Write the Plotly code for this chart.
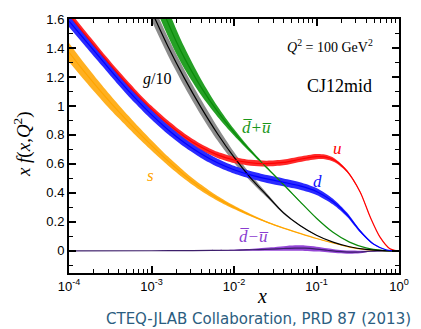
import numpy as np
import plotly.graph_objects as go

# ---- data (log10 x grids, central values, half-widths of bands) ----
u_logx = [-4, -3.8, -3.6, -3.4, -3.2, -3.0, -2.8, -2.6, -2.4, -2.2, -2.0, -1.8, -1.6, -1.4, -1.2, -1.0, -0.9, -0.78, -0.63, -0.47, -0.35, -0.23, -0.11, 0]
u_val = [1.63, 1.488, 1.35, 1.217, 1.092, 0.978, 0.876, 0.788, 0.716, 0.662, 0.627, 0.608, 0.602, 0.61, 0.632, 0.65, 0.648, 0.625, 0.55, 0.405, 0.235, 0.095, 0.015, 0]
u_err = [0.028, 0.027, 0.026, 0.025, 0.024, 0.023, 0.023, 0.022, 0.022, 0.021, 0.021, 0.02, 0.02, 0.02, 0.019, 0.018, 0.016, 0.013, 0.008, 0.004, 0.002, 0.001, 0.0005, 0]

d_logx = [-4, -3.8, -3.6, -3.4, -3.2, -3.0, -2.8, -2.6, -2.4, -2.2, -2.0, -1.8, -1.6, -1.4, -1.2, -1.0, -0.8, -0.63, -0.47, -0.31, -0.15, 0]
d_val = [1.585, 1.45, 1.316, 1.182, 1.056, 0.94, 0.836, 0.746, 0.67, 0.608, 0.56, 0.524, 0.496, 0.473, 0.448, 0.41, 0.34, 0.25, 0.135, 0.047, 0.006, 0]
d_err = [0.04, 0.039, 0.038, 0.037, 0.036, 0.034, 0.032, 0.03, 0.029, 0.028, 0.027, 0.027, 0.027, 0.027, 0.026, 0.024, 0.02, 0.014, 0.008, 0.003, 0.001, 0]

s_logx = [-4, -3.8, -3.6, -3.4, -3.2, -3.0, -2.8, -2.6, -2.4, -2.2, -2.0, -1.8, -1.6, -1.4, -1.2, -1.0, -0.8, -0.6, -0.4, -0.2, 0]
s_val = [1.37, 1.226, 1.09, 0.962, 0.842, 0.728, 0.62, 0.522, 0.436, 0.362, 0.3, 0.246, 0.198, 0.157, 0.12, 0.085, 0.054, 0.026, 0.008, 0.001, 0]
s_err = [0.065, 0.058, 0.052, 0.046, 0.041, 0.036, 0.031, 0.026, 0.021, 0.016, 0.012, 0.008, 0.005, 0.003, 0.002, 0.001, 0.0005, 0, 0, 0, 0]

g_logx = [-3.0, -2.8, -2.6, -2.4, -2.2, -2.0, -1.8, -1.6, -1.4, -1.2, -1.0, -0.8, -0.6, -0.4, -0.2, 0]
g_val = [1.655, 1.41, 1.19, 0.99, 0.808, 0.646, 0.504, 0.382, 0.262, 0.175, 0.108, 0.06, 0.028, 0.01, 0.002, 0]
g_err = [0.066, 0.062, 0.058, 0.054, 0.047, 0.036, 0.024, 0.014, 0.007, 0.003, 0.001, 0, 0, 0, 0, 0]

sea_logx = [-2.9, -2.82, -2.7, -2.6, -2.4, -2.2, -2.0, -1.8, -1.6, -1.4, -1.2, -1.0, -0.8, -0.6, -0.4, -0.2, 0]
sea_val = [1.71, 1.60, 1.445, 1.33, 1.13, 0.962, 0.818, 0.69, 0.572, 0.458, 0.34, 0.225, 0.128, 0.06, 0.02, 0.003, 0]
sea_err = [0.1, 0.095, 0.085, 0.075, 0.055, 0.036, 0.022, 0.012, 0.006, 0.003, 0.002, 0.001, 0, 0, 0, 0, 0]

dmu_logx = [-4, -3, -2.5, -2.0, -1.85, -1.7, -1.55, -1.4, -1.26, -1.14, -1.0, -0.87, -0.74, -0.6, -0.47, -0.35, -0.2, 0]
dmu_val = [0, 0.0005, 0.002, 0.004, 0.006, 0.009, 0.012, 0.016, 0.019, 0.018, 0.012, 0.004, -0.004, -0.009, -0.008, -0.003, -0.001, 0]
dmu_err = [0, 0.0005, 0.002, 0.004, 0.006, 0.009, 0.012, 0.016, 0.019, 0.019, 0.017, 0.014, 0.012, 0.011, 0.009, 0.004, 0.001, 0]

x_tickvals = [1e-4, 1e-3, 1e-2, 1e-1, 1]
x_ticktext = ["10<sup>-4</sup>", "10<sup>-3</sup>", "10<sup>-2</sup>", "10<sup>-1</sup>", "10<sup>0</sup>"]

series = {
    "s": (s_logx, s_val, s_err, "#ffb020", "#ffa500"),
    "dmu": (dmu_logx, dmu_val, dmu_err, "#9446d6", "#3c1e6a"),
    "g": (g_logx, g_val, g_err, "#8c8c8c", "#000000"),
    "sea": (sea_logx, sea_val, sea_err, "#25a025", "#0a8a0a"),
    "u": (u_logx, u_val, u_err, "#ff2a2a", "#ff0000"),
    "d": (d_logx, d_val, d_err, "#2a2aff", "#0000ff"),
}

fig = go.Figure()
for name, (lx, v, e, bandc, _) in series.items():
    x = 10 ** np.array(lx)
    v = np.array(v)
    e = np.array(e)
    fig.add_trace(go.Scatter(x=x, y=v - e, mode="lines", line=dict(width=0, shape="spline", smoothing=0.8),
                             hoverinfo="skip", showlegend=False))
    fig.add_trace(go.Scatter(x=x, y=v + e, mode="lines", line=dict(width=0, shape="spline", smoothing=0.8),
                             fill="tonexty", fillcolor=bandc, opacity=0.9, hoverinfo="skip", showlegend=False))

for name in ["s", "dmu", "sea", "g", "d", "u"]:
    lx, v, e, _, linec = series[name]
    fig.add_trace(go.Scatter(x=10 ** np.array(lx), y=v, mode="lines",
                             line=dict(color=linec, width=1.2, shape="spline", smoothing=0.8),
                             showlegend=False, name=name))

serif = "Liberation Serif"
ann = [
    dict(x=0.792, y=0.892, text="<i>Q</i><sup>2</sup> = 100 GeV<sup>2</sup>", font=dict(size=14, color="black", family=serif)),
    dict(x=0.819, y=0.738, text="CJ12mid", font=dict(size=18, color="black", family=serif)),
    dict(x=0.267, y=0.762, text="<i>g</i>/10", font=dict(size=16, color="black", family=serif)),
    dict(x=0.570, y=0.573, text="<i>d\u0305+u\u0305</i>", font=dict(size=17, color="#1a961a", family=serif)),
    dict(x=0.813, y=0.490, text="<i>u</i>", font=dict(size=17, color="#ff0000", family=serif)),
    dict(x=0.754, y=0.362, text="<i>d</i>", font=dict(size=17, color="#1010ff", family=serif)),
    dict(x=0.246, y=0.385, text="<i>s</i>", font=dict(size=17, color="#ffa500", family=serif)),
    dict(x=0.561, y=0.142, text="<i>d\u0305\u2212u\u0305</i>", font=dict(size=17, color="#8a3cd0", family=serif)),
    dict(x=0.585, y=-0.092, text="<i>x</i>", font=dict(size=20, color="black", family=serif)),
    dict(x=-0.139, y=0.508, text="<i>x f</i>(<i>x</i>,<i>Q</i><sup>2</sup>)", textangle=-90,
         font=dict(size=19, color="black", family=serif)),
    dict(x=1.0415, y=-0.181, xanchor="right", text="CTEQ-JLAB Collaboration, PRD 87 (2013)",
         font=dict(size=15, color="#2b5d80", family="DejaVu Sans")),
]
for a in ann:
    a.setdefault("xanchor", "center")
    fig.add_annotation(xref="paper", yref="paper", showarrow=False, yanchor="middle", **a)

fig.update_layout(
    width=421, height=329,
    margin=dict(l=69, r=15, t=13, b=56),
    paper_bgcolor="white", plot_bgcolor="white",
    font=dict(family="Liberation Sans", size=13, color="black"),
    xaxis=dict(type="log", range=[-4, 0], tickvals=x_tickvals, ticktext=x_ticktext,
               ticks="inside", ticklen=7, tickwidth=1.5, tickcolor="black",
               showline=True, linewidth=2, linecolor="black", mirror="allticks",
               showgrid=False, zeroline=False,
               minor=dict(ticks="inside", ticklen=4, tickwidth=1.2, tickcolor="black", dtick="D1", showgrid=False),
               tickfont=dict(size=13)),
    yaxis=dict(range=[-0.153, 1.6], dtick=0.2, tick0=0,
               ticks="inside", ticklen=7, tickwidth=1.5, tickcolor="black",
               showline=True, linewidth=2, linecolor="black", mirror="allticks",
               showgrid=False, zeroline=False,
               minor=dict(ticks="inside", ticklen=4, tickwidth=1.2, tickcolor="black", dtick=0.1, showgrid=False),
               tickfont=dict(size=13)),
)

fig.write_html("out.html")
